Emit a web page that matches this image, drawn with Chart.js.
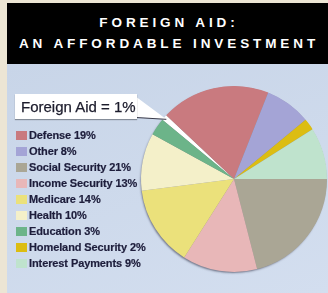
<!DOCTYPE html>
<html><head><meta charset="utf-8">
<script src="https://cdn.jsdelivr.net/npm/chart.js@4"></script>
<style>
html,body{margin:0;padding:0;}
body{width:328px;height:293px;background:#ece5d4;position:relative;overflow:hidden;font-family:"Liberation Sans",Arial,sans-serif;}
#hdr{position:absolute;left:7px;top:3px;width:321px;height:61px;background:#000;color:#fff;text-align:center;font-weight:bold;font-size:13.5px;letter-spacing:3.9px;line-height:17px;}
#hdr div{position:absolute;left:0;right:0;padding-left:3px;}
#panel{position:absolute;left:7px;top:64px;width:321px;height:229px;background:linear-gradient(160deg,#c8d5e8 0%,#d3deef 100%);}
#cv{position:absolute;left:0;top:0;}
#callout{position:absolute;left:8px;top:30px;width:122px;height:25px;background:#fff;box-shadow:0 1px 1px rgba(0,0,0,0.35);font-size:15px;color:#1c1c2c;line-height:25px;padding-left:6px;box-sizing:border-box;white-space:nowrap;-webkit-text-stroke:0.25px #1c1c2c;}
.li{position:absolute;left:9px;height:12px;font-size:11px;font-weight:bold;color:#1d1d3b;white-space:nowrap;line-height:12px;letter-spacing:-0.1px;-webkit-text-stroke:0.2px #1d1d3b;}
.sw{display:inline-block;width:11px;height:9px;margin-right:2px;vertical-align:-1px;}
</style></head>
<body>
<div id="hdr"><div style="top:11px">FOREIGN AID:</div><div style="top:32px">AN AFFORDABLE INVESTMENT</div></div>
<div id="panel"><canvas id="cv" width="321" height="229"></canvas><div id="callout">Foreign Aid = 1%</div><div id="legend"></div></div>
<script>
// Data (pie order, clockwise from the Foreign Aid slice)
const categories = ["Foreign Aid","Defense","Other","Homeland Security","Interest Payments","Social Security","Income Security","Medicare","Health","Education"];
const values = [1,19,8,2,9,21,13,14,10,3];
const colors = ["#ffffff","#c97a7f","#a4a4d6","#dcbd12","#bfe3cd","#aaa695","#e8b7b8","#ebe17b","#f4f0c9","#6cb489"];
// Legend order (as printed)
const legendOrder = ["Defense","Other","Social Security","Income Security","Medicare","Health","Education","Homeland Security","Interest Payments"];

const leg = document.getElementById('legend');
legendOrder.forEach((name,i)=>{
  const k = categories.indexOf(name);
  const d = document.createElement('div');
  d.className='li';
  d.style.top=(65+i*16)+'px';
  d.innerHTML='<span class="sw" style="background:'+colors[k]+'"></span>'+name+' '+values[k]+'%';
  leg.appendChild(d);
});

const pointer = {
  id:'pointer',
  afterDatasetsDraw(chart){
    const arc = chart.getDatasetMeta(0).data[0];
    const mid = (arc.startAngle+arc.endAngle)/2;
    const r = arc.outerRadius;
    const tx = arc.x + Math.cos(mid)*r*0.97, ty = arc.y + Math.sin(mid)*r*0.97;
    const ctx = chart.ctx;
    ctx.save();
    ctx.fillStyle='#fff';
    ctx.beginPath();
    ctx.moveTo(128,32); ctx.lineTo(tx,ty); ctx.lineTo(128,53); ctx.closePath(); ctx.fill();
    ctx.strokeStyle='#3a3a48'; ctx.lineWidth=1;
    ctx.beginPath(); ctx.moveTo(129,53.5); ctx.lineTo(tx,ty); ctx.stroke();
    ctx.restore();
  },
  beforeDatasetsDraw(chart){
    const arc = chart.getDatasetMeta(0).data[0];
    const ctx = chart.ctx;
    ctx.save();
    ctx.shadowColor='rgba(40,40,60,0.55)'; ctx.shadowBlur=2; ctx.shadowOffsetX=-1; ctx.shadowOffsetY=1.5;
    ctx.fillStyle='#888';
    ctx.beginPath(); ctx.arc(arc.x,arc.y,arc.outerRadius-0.5,0,Math.PI*2); ctx.fill();
    ctx.restore();
  }
};

new Chart(document.getElementById('cv'),{
  type:'pie',
  data:{labels:categories,datasets:[{data:values,backgroundColor:colors,borderWidth:0}]},
  options:{
    responsive:false,animation:false,rotation:-50.4,
    layout:{padding:{left:134,right:1,top:22,bottom:21}},
    plugins:{legend:{display:false},tooltip:{enabled:false},title:{display:false}}
  },
  plugins:[pointer]
});
</script>
</body></html>
